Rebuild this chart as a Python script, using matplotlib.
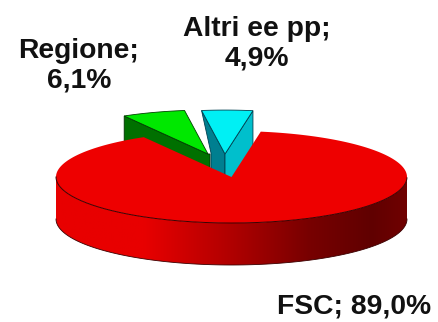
import numpy as np
import matplotlib
matplotlib.use("Agg")
import matplotlib.pyplot as plt
from matplotlib.colors import LinearSegmentedColormap
from matplotlib.patches import Polygon

# Values
categories = ["FSC", "Regione", "Altri ee pp"]
shares = [89.0, 6.1, 4.9]
value_labels = ["89,0%", "6,1%", "4,9%"]

plt.rcParams['font.family'] = ['Liberation Sans', 'DejaVu Sans']

fig = plt.figure(figsize=(4.38, 3.22), dpi=100)
ax = fig.add_axes([0, 0, 1, 1])
ax.set_xlim(0, 438)
ax.set_ylim(322, 0)
ax.axis("off")

# pie geometry in pixels
cx, cy = 231.5, 177
rx, ry = 175.5, 46
depth = 42
edge = "#3a0000"

# slice angles follow the shares, red starts at 120 deg and runs counter clockwise
start = 120.0
sweeps = [s * 3.6 for s in shares]
red_from, red_to = start, start + sweeps[0]
cyan_from = red_to - 360
cyan_to = cyan_from + sweeps[2]
green_from = cyan_to
green_to = green_from + sweeps[1]


def on_ellipse(deg, x0=cx, y0=cy, scale=1.0):
    t = np.radians(deg)
    return x0 + scale * rx * np.cos(t), y0 - scale * ry * np.sin(t)


# exploded slices, drawn first so the red top hides their lower part
def slice_top(a0, a1, x0, y0, scale):
    t = np.linspace(a0, a1, 30)
    xs, ys = on_ellipse(t, x0, y0, scale)
    return np.r_[[x0], xs], np.r_[[y0], ys]


# green
gx, gy = 208.0, 154.0
sx, sy = slice_top(green_from, green_to, gx, gy, 0.955)
ax.add_patch(Polygon([(sx[-1], sy[-1]), (gx, gy), (gx + 2, gy), (gx + 2, gy + depth), (sx[-1], sy[-1] + depth)],
                     fc="#007000", ec="#003000", lw=0.6, zorder=2))
ax.fill(sx, sy, fc="#00e800", ec="#004000", lw=0.6, zorder=3)

# cyan
bx, by = 225.0, 154.0
sx, sy = slice_top(cyan_from, cyan_to, bx, by, 0.955)
# left inner face narrows towards the apex
ax.add_patch(Polygon([(sx[-1], sy[-1]), (bx, by), (bx, by + depth), (211, by + depth), (211, by - 1)],
                     fc="#007f90", ec="#004050", lw=0.6, zorder=4))
ax.add_patch(Polygon([(sx[1], sy[1]), (bx, by), (bx, by + depth), (sx[1], sy[1] + depth)],
                     fc="#00bfcc", ec="#004050", lw=0.6, zorder=4))
ax.fill(sx, sy, fc="#00f0f4", ec="#004050", lw=0.6, zorder=5)

# red side wall with the horizontal shading
t = np.linspace(180, 360, 120)
xs, ys = on_ellipse(t)
wall_x = np.r_[xs, xs[::-1]]
wall_y = np.r_[ys, ys[::-1] + depth]
shade = LinearSegmentedColormap.from_list("shade", [
    (0.0, "#e80000"), (0.25, "#e80000"), (0.50, "#b00000"),
    (0.72, "#780000"), (0.90, "#600000"), (1.0, "#700000")])
img = ax.imshow(np.linspace(0, 1, 256)[None, :], cmap=shade, aspect="auto",
                extent=(cx - rx, cx + rx, cy + ry + depth, cy - ry), zorder=6)
img.set_clip_path(Polygon(np.c_[wall_x, wall_y], transform=ax.transData))
ax.set_xlim(0, 438)
ax.set_ylim(322, 0)
ax.plot(xs, ys + depth, color=edge, lw=0.6, zorder=7)

# red top
t = np.linspace(red_from, red_to, 300)
xs, ys = on_ellipse(t)
ax.fill(np.r_[[cx], xs], np.r_[[cy], ys], fc="#ee0000", ec="none", zorder=8)
ax.plot(xs[(t > 180) & (t < 360)], ys[(t > 180) & (t < 360)], color=edge, lw=0.7, zorder=9)

# labels
txt = dict(fontsize=20.3, fontweight="bold", color="#111111", ha="center", va="center",
           linespacing=1.18, zorder=10)
ax.text(79, 66, f"{categories[1]};\n{value_labels[1]}", **txt)
ax.text(257, 44, f"{categories[2]};\n{value_labels[2]}", **txt)
ax.text(354.5, 307, f"{categories[0]}; {value_labels[0]}", **txt)

fig.savefig("out.png", dpi=100)
